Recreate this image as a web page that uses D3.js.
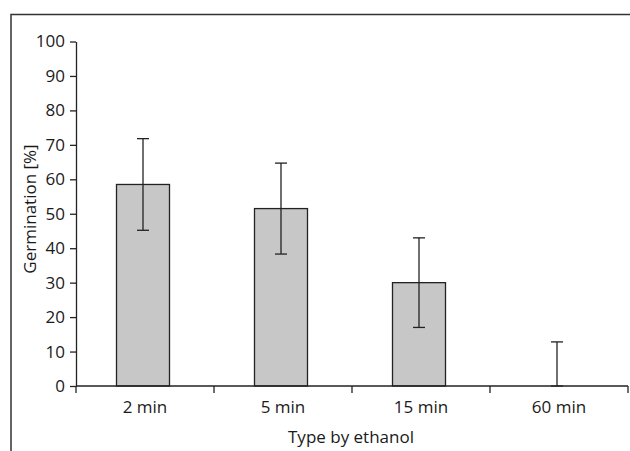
<!DOCTYPE html>
<html>
<head>
<meta charset="utf-8">
<script src="https://cdn.jsdelivr.net/npm/d3@7"></script>
<style>
  body { margin: 0; background: #fff; }
  svg text { font-family: "Open Sans", "Noto Sans", sans-serif; fill: #1a1a1a; }
</style>
</head>
<body>
<script>
// chart data
const categories = ["2 min", "5 min", "15 min", "60 min"];
const germination = [58.5, 51.5, 30, 0];
const errors = [13.3, 13.2, 13, 12.8];
const yTicks = [0, 10, 20, 30, 40, 50, 60, 70, 80, 90, 100];

const W = 630, H = 451;
const svg = d3.select("body").append("svg")
  .attr("width", W).attr("height", H);

// outer frame (runs off the right and bottom edges)
svg.append("rect")
  .attr("x", 11).attr("y", 14.5)
  .attr("width", W + 20).attr("height", H + 20)
  .attr("fill", "none").attr("stroke", "#333").attr("stroke-width", 1.5);

const plotL = 76, plotR = 628, plotT = 41.5, plotB = 386;

const x = d3.scaleBand().domain(categories).range([plotL, plotR]).paddingInner(0).paddingOuter(0);
const y = d3.scaleLinear().domain([0, 100]).range([plotB, plotT]);

const barW = 53;
const cx = d => x(d) + x.bandwidth() / 2 - 2;

const g = svg.append("g");

// bars
g.selectAll("rect.bar")
  .data(categories)
  .join("rect")
  .attr("class", "bar")
  .attr("x", d => cx(d) - barW / 2)
  .attr("y", (d, i) => y(germination[i]))
  .attr("width", barW)
  .attr("height", (d, i) => y(0) - y(germination[i]))
  .attr("fill", "#c7c7c8")
  .attr("stroke", "#222")
  .attr("stroke-width", 1.3);

// error bars
const eb = g.selectAll("g.err").data(categories).join("g").attr("class", "err")
  .attr("stroke", "#222").attr("stroke-width", 1.3);
eb.append("line")
  .attr("x1", d => cx(d)).attr("x2", d => cx(d))
  .attr("y1", (d, i) => y(Math.max(0, germination[i] - errors[i])))
  .attr("y2", (d, i) => y(germination[i] + errors[i]));
eb.append("line")
  .attr("x1", d => cx(d) - 6).attr("x2", d => cx(d) + 6)
  .attr("y1", (d, i) => y(germination[i] + errors[i]))
  .attr("y2", (d, i) => y(germination[i] + errors[i]));
eb.append("line")
  .attr("x1", d => cx(d) - 6).attr("x2", d => cx(d) + 6)
  .attr("y1", (d, i) => y(Math.max(0, germination[i] - errors[i])))
  .attr("y2", (d, i) => y(Math.max(0, germination[i] - errors[i])));

// y axis
const yAxis = svg.append("g")
  .attr("transform", `translate(${plotL},0)`)
  .call(d3.axisLeft(y).tickValues(yTicks).tickSize(6).tickSizeOuter(0).tickPadding(5));
yAxis.selectAll("text").style("font-size", "17px");
yAxis.select(".domain").attr("stroke", "#222").attr("stroke-width", 1.3);
yAxis.selectAll(".tick line").attr("stroke", "#222").attr("stroke-width", 1.3);

// x axis with ticks at band boundaries
const xAxis = svg.append("g")
  .attr("transform", `translate(0,${plotB})`);
xAxis.append("line")
  .attr("x1", plotL).attr("x2", plotR)
  .attr("stroke", "#222").attr("stroke-width", 1.3);
const bounds = categories.map(d => x(d)).concat([plotR]);
xAxis.selectAll("line.tick").data(bounds).join("line")
  .attr("class", "tick")
  .attr("x1", d => d).attr("x2", d => d)
  .attr("y1", 0).attr("y2", 7)
  .attr("stroke", "#222").attr("stroke-width", 1.3);
xAxis.selectAll("text").data(categories).join("text")
  .attr("x", d => x(d) + x.bandwidth() / 2)
  .attr("y", 27)
  .attr("text-anchor", "middle")
  .style("font-size", "17px")
  .text(d => d);

// axis titles
svg.append("text")
  .attr("x", 351).attr("y", 443)
  .attr("text-anchor", "middle")
  .style("font-size", "17px")
  .text("Type by ethanol");

svg.append("text")
  .attr("transform", "translate(36,209) rotate(-90)")
  .attr("text-anchor", "middle")
  .style("font-size", "17px")
  .text("Germination [%]");
</script>
</body>
</html>
